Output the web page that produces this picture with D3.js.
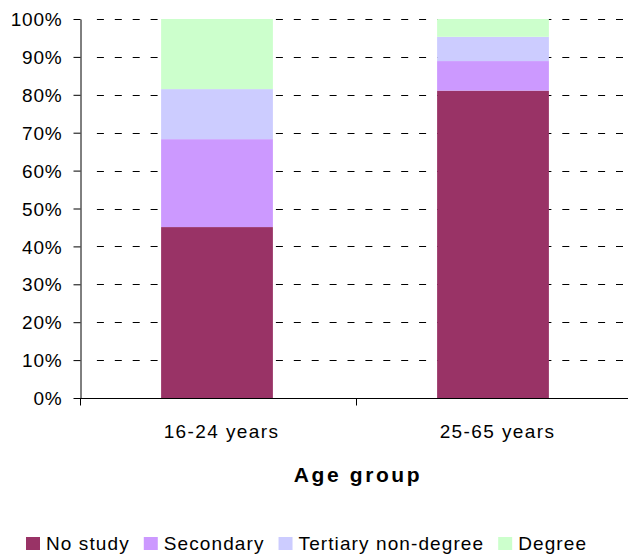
<!DOCTYPE html>
<html><head><meta charset="utf-8">
<script src="https://cdn.jsdelivr.net/npm/d3@7"></script>
<style>
html,body{margin:0;padding:0;background:#fff;}
text{font-family:"Liberation Sans",Arial,sans-serif;fill:#000;}
</style></head>
<body>
<svg id="chart" width="628" height="554"></svg>
<script>
const categories = ["16-24 years", "25-65 years"];
const seriesNames = ["No study", "Secondary", "Tertiary non-degree", "Degree"];
const noStudy   = [45.1, 81.1];
const secondary = [23.2, 7.8];
const tertiary  = [13.2, 6.4];
const degree    = [18.5, 4.7];
const yTicks = [0, 10, 20, 30, 40, 50, 60, 70, 80, 90, 100];
const colors = ["#993366", "#CC99FF", "#CCCCFF", "#CCFFCC"];

const svg = d3.select("#chart");
const mLeft = 80, mRight = 632, mTop = 19, mBottom = 398;

const x = d3.scaleBand().domain(categories).range([mLeft, mRight]).padding(0);
const y = d3.scaleLinear().domain([0, 100]).range([mBottom, mTop]);

const rows = categories.map((c, i) => ({
  cat: c, "No study": noStudy[i], "Secondary": secondary[i],
  "Tertiary non-degree": tertiary[i], "Degree": degree[i]
}));
const stacked = d3.stack().keys(seriesNames)(rows);

// gridlines
svg.append("g").selectAll("line").data(yTicks.filter(t => t > 0)).join("line")
  .attr("x1", mLeft + 6).attr("x2", 640)
  .attr("y1", d => Math.round(y(d)) + 0.5).attr("y2", d => Math.round(y(d)) + 0.5)
  .attr("stroke", "#000").attr("stroke-width", 1)
  .attr("stroke-dasharray", "7,10.9").attr("stroke-dashoffset", 7);

// bars
const barW = x.bandwidth() * 0.405;
svg.append("g").selectAll("g").data(stacked).join("g")
  .attr("fill", (d, i) => colors[i])
  .selectAll("rect").data(d => d).join("rect")
  .attr("x", d => x(d.data.cat) + x.bandwidth() / 2 - barW / 2 - 1)
  .attr("width", barW)
  .attr("y", d => y(d[1]))
  .attr("height", d => y(d[0]) - y(d[1]));

// y axis
const yAxis = svg.append("g").attr("transform", `translate(${mLeft + 0.5},0)`)
  .call(d3.axisLeft(y).tickValues(yTicks).tickFormat(d => d + "%").tickSize(7).tickSizeOuter(0));
yAxis.select(".domain").attr("stroke", "#000");
yAxis.selectAll(".tick line").attr("stroke", "#000");
yAxis.selectAll(".tick text").attr("x", -18).attr("dy", "0.35em")
  .style("font-size", "19px").style("letter-spacing", "0.8px")
  .style("font-family", "'Liberation Sans', Arial, sans-serif").attr("fill", "#000");

// x axis
const xAxis = svg.append("g").attr("transform", `translate(0,${mBottom + 0.5})`);
xAxis.append("line").attr("x1", mLeft).attr("x2", 640).attr("stroke", "#000");
const bounds = [mLeft, x(categories[1]), mRight];
xAxis.selectAll("line.tk").data(bounds).join("line").attr("class", "tk")
  .attr("x1", d => Math.round(d) + 0.5).attr("x2", d => Math.round(d) + 0.5)
  .attr("y1", 0).attr("y2", 7).attr("stroke", "#000");
svg.append("g").selectAll("text").data(categories).join("text")
  .attr("x", d => x(d) + x.bandwidth() / 2 + 3.5).attr("y", 438)
  .attr("text-anchor", "middle")
  .style("font-size", "19px").style("letter-spacing", "1.4px")
  .text(d => d);

svg.append("text").attr("x", (mLeft + mRight) / 2 + 2).attr("y", 482)
  .attr("text-anchor", "middle").style("font-size", "21px").style("font-weight", "bold")
  .style("letter-spacing", "2.6px").text("Age group");

// legend
const leg = svg.append("g");
let lx = 26;
seriesNames.forEach((name, i) => {
  leg.append("rect").attr("x", lx).attr("y", 537).attr("width", 14).attr("height", 13).attr("fill", colors[i]);
  const t = leg.append("text").attr("x", lx + 20).attr("y", 550)
    .style("font-size", "19px").style("letter-spacing", "1.1px").text(name);
  lx += 20 + t.node().getComputedTextLength() + 14;
});
</script>
</body></html>
